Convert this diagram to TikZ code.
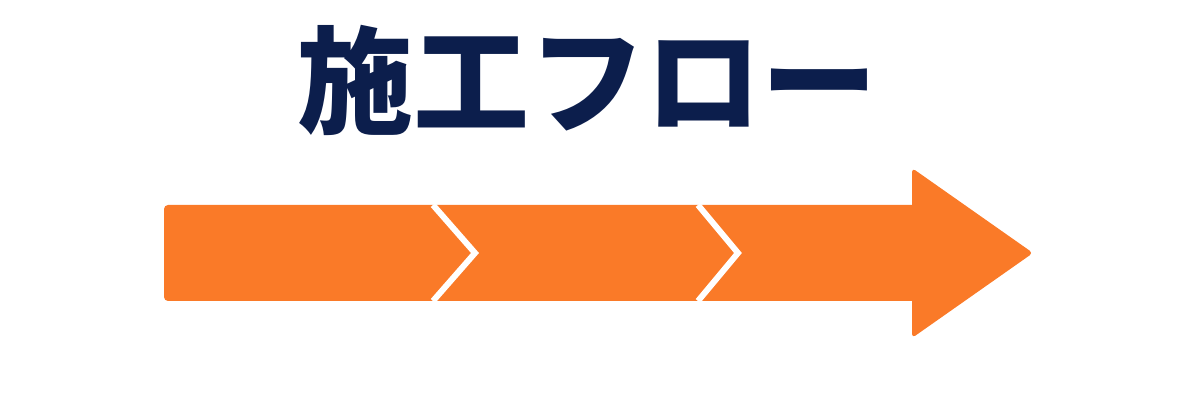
\documentclass[tikz,border=0pt]{standalone}
\usepackage{fontspec}
\newfontfamily\jpfont{Noto Sans CJK JP}

\definecolor{flownavy}{RGB}{12,30,76}
\definecolor{floworange}{RGB}{250,122,40}

\begin{document}
\begin{tikzpicture}[x=0.5pt, y=-0.5pt]
	\useasboundingbox (0,0) rectangle (1200,400);

	\fill[floworange, rounded corners=2pt] (164,205) rectangle (930,301);
	\fill[floworange, rounded corners=2pt] (912,168) -- (1033,253) -- (912,338) -- cycle;

	\draw[white, line width=3pt] (433,205) -- (475,253) -- (433,301);
	\draw[white, line width=3pt] (698,205) -- (738,253) -- (698,301);

	\node[flownavy, inner sep=0pt, font=\jpfont\bfseries\fontsize{58}{58}\selectfont] (title) at (587,80) {施工フロー};
\end{tikzpicture}
\end{document}
